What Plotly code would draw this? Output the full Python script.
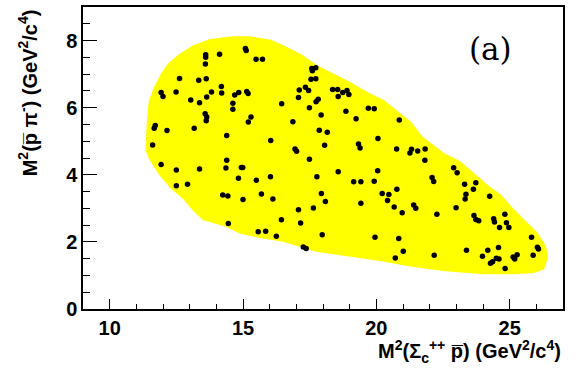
import plotly.graph_objects as go

# Boundary of the yellow (MC phase-space) region
region_x = [11.40, 11.45, 11.52, 11.71, 11.96, 12.21, 12.64, 13.14, 13.77, 14.63, 15.27, 16.02,
            16.51, 17.14, 17.76, 18.14, 18.51, 19.01, 19.64, 20.26, 20.88, 21.26, 21.70, 22.13,
            22.50, 23.13, 23.63, 24.13, 24.63, 25.13, 25.63, 26.00, 26.31, 26.38, 26.25, 25.90,
            25.20, 24.00, 22.50, 21.26, 20.26, 19.01, 17.76, 16.51, 15.64, 14.89, 14.39, 13.52,
            13.14, 12.77, 12.33, 11.90, 11.52, 11.40]
region_y = [4.75, 5.60, 6.18, 6.58, 6.97, 7.27, 7.56, 7.81, 8.00, 8.08, 8.08, 7.98,
            7.81, 7.56, 7.22, 7.07, 6.92, 6.72, 6.43, 6.18, 5.79, 5.55, 5.10, 4.85,
            4.61, 4.36, 4.02, 3.67, 3.38, 2.93, 2.54, 2.25, 1.85, 1.55, 1.22, 1.12,
            1.08, 1.08, 1.18, 1.31, 1.46, 1.60, 1.75, 2.05, 2.16, 2.29, 2.49, 2.69,
            2.98, 3.33, 3.62, 4.02, 4.50, 4.75]

# Black data points
data_x = [11.61, 11.71, 11.67, 11.93, 12.00, 11.93, 12.15, 12.49, 12.50, 12.50, 12.62, 12.92,
          13.04, 13.17, 13.34, 13.37, 13.37, 13.60, 13.60, 13.59, 13.62, 13.64, 13.58, 13.64,
          13.62, 13.82, 14.12, 14.19, 14.20, 14.39, 14.39, 14.36, 14.24, 14.43, 14.45, 14.62,
          14.62, 14.69, 14.84, 14.83, 14.94, 14.99, 15.00, 15.09, 15.12, 15.14, 15.19, 15.20,
          15.30, 15.49, 15.73, 15.50, 15.57, 15.69, 15.85, 16.03, 16.04, 16.12, 16.25, 16.45,
          16.44, 16.87, 16.95, 17.01, 17.08, 17.11, 17.08, 17.16, 17.26, 17.37, 17.34, 17.46,
          17.49, 17.49, 17.55, 17.58, 17.73, 17.60, 17.73, 17.74, 17.82, 17.77, 17.64, 17.86,
          17.93, 17.94, 17.97, 18.09, 18.06, 18.16, 18.36, 18.55, 18.57, 18.57, 18.74, 18.90,
          18.97, 18.86, 19.24, 19.15, 19.33, 19.39, 19.42, 19.42, 19.70, 19.92, 19.92, 19.95,
          20.06, 20.05, 20.22, 20.42, 20.47, 20.67, 20.71, 20.76, 20.77, 20.84, 20.86, 20.97,
          21.01, 21.26, 21.32, 21.55, 21.83, 21.82, 21.40, 21.48, 22.09, 22.15, 22.17, 22.27,
          22.90, 23.03, 22.99, 23.31, 23.36, 23.33, 23.38, 23.64, 23.73, 23.66, 23.73, 23.84,
          23.98, 24.18, 24.25, 24.28, 24.36, 24.40, 24.43, 24.50, 24.60, 24.58, 24.62, 24.82,
          24.88, 24.97, 24.83, 25.13, 25.28, 25.19, 25.82, 25.88, 26.04, 26.08]
data_y = [4.89, 5.47, 5.39, 6.45, 6.33, 4.31, 5.32, 6.47, 4.14, 3.67, 6.87, 3.72,
          6.23, 5.39, 6.82, 6.15, 4.17, 7.58, 7.50, 7.30, 6.86, 6.32, 5.82, 5.72,
          5.61, 6.47, 7.59, 6.63, 6.44, 5.17, 4.43, 4.20, 3.40, 3.37, 2.55, 6.13,
          5.95, 6.38, 6.45, 3.90, 4.22, 4.22, 3.26, 7.76, 7.70, 6.48, 6.42, 5.57,
          5.72, 7.44, 7.44, 3.84, 2.30, 3.43, 2.32, 3.94, 5.02, 3.28, 2.17, 6.12,
          2.66, 5.58, 4.77, 4.70, 6.30, 6.53, 2.96, 2.56, 1.85, 1.80, 6.61, 6.51,
          6.00, 4.46, 6.85, 7.17, 7.19, 7.10, 6.86, 6.18, 6.25, 3.94, 3.01, 5.33,
          5.78, 3.44, 2.21, 3.20, 4.88, 5.27, 6.54, 6.54, 6.33, 4.09, 6.45, 6.51,
          6.39, 5.89, 5.67, 3.79, 4.92, 4.80, 3.79, 3.15, 5.98, 5.97, 3.81, 2.14,
          5.08, 4.12, 3.44, 3.23, 3.41, 3.04, 1.52, 4.77, 3.57, 2.10, 5.63, 2.87,
          1.72, 4.65, 4.76, 4.71, 4.77, 4.43, 3.10, 3.00, 3.92, 3.80, 1.60, 2.82,
          4.21, 4.06, 3.02, 3.72, 3.42, 3.28, 1.75, 3.57, 3.76, 2.79, 2.67, 2.63,
          1.57, 1.75, 3.36, 1.36, 1.41, 2.69, 2.59, 1.51, 1.49, 1.83, 2.43, 2.82,
          2.57, 2.43, 1.21, 1.55, 1.62, 1.49, 2.14, 1.60, 1.84, 1.79]

x_range = [9, 27]
y_range = [0, 9]
x_tickvals = [10, 15, 20, 25]
y_tickvals = [0, 2, 4, 6, 8]

x_title = "M<sup>2</sup>(Σ<sub>c</sub><sup>++</sup> p\u0305) (GeV<sup>2</sup>/c<sup>4</sup>)"
y_title = "M<sup>2</sup>(p\u0305 π<sup>-</sup>) (GeV<sup>2</sup>/c<sup>4</sup>)"
panel_label = "(a)"

fig = go.Figure()
fig.add_trace(go.Scatter(x=region_x, y=region_y, mode="lines", fill="toself",
                         fillcolor="#ffff00", line=dict(color="#ffff00", width=3),
                         hoverinfo="skip", showlegend=False))
fig.add_trace(go.Scatter(x=data_x, y=data_y, mode="markers",
                         marker=dict(color="black", size=5.5, line=dict(width=0)),
                         showlegend=False))

axis_font = dict(family="Liberation Sans, Arial, sans-serif", size=20, color="black", weight="bold")
title_font = dict(family="Liberation Sans, Arial, sans-serif", size=20, color="black", weight="bold")

fig.update_xaxes(range=x_range, tickvals=x_tickvals, ticks="inside", ticklen=10,
                 tickwidth=1, tickcolor="black", showline=True, linecolor="black",
                 linewidth=1.5, mirror=True, showgrid=False, zeroline=False,
                 tickfont=axis_font,
                 minor=dict(dtick=1, ticks="inside", ticklen=5, tickcolor="black", tickwidth=1,
                            showgrid=False))
fig.update_yaxes(range=y_range, tickvals=y_tickvals, ticks="inside", ticklen=14,
                 tickwidth=1, tickcolor="black", showline=True, linecolor="black",
                 linewidth=1.5, mirror=True, showgrid=False, zeroline=False,
                 tickfont=axis_font,
                 minor=dict(dtick=0.5, ticks="inside", ticklen=7, tickcolor="black", tickwidth=1,
                            showgrid=False))

fig.update_layout(
    width=579, height=369,
    margin=dict(l=83, r=16, t=5, b=60),
    paper_bgcolor="white", plot_bgcolor="white",
    annotations=[
        dict(text=x_title, xref="paper", yref="paper", x=1.0, y=-0.14,
             xanchor="right", yanchor="middle", showarrow=False, font=title_font),
        dict(text=y_title, xref="paper", yref="paper", x=-0.115, y=1.0,
             xanchor="center", yanchor="top", textangle=-90, showarrow=False,
             font=title_font),
        dict(text=panel_label, xref="x", yref="y", x=24.29, y=7.75,
             xanchor="center", yanchor="middle", showarrow=False,
             font=dict(family="DejaVu Serif, serif", size=31, color="black")),
    ],
)

fig.write_html("out.html", config={"displayModeBar": False},
               post_script="document.body.style.margin='0';document.body.style.padding='0';")
